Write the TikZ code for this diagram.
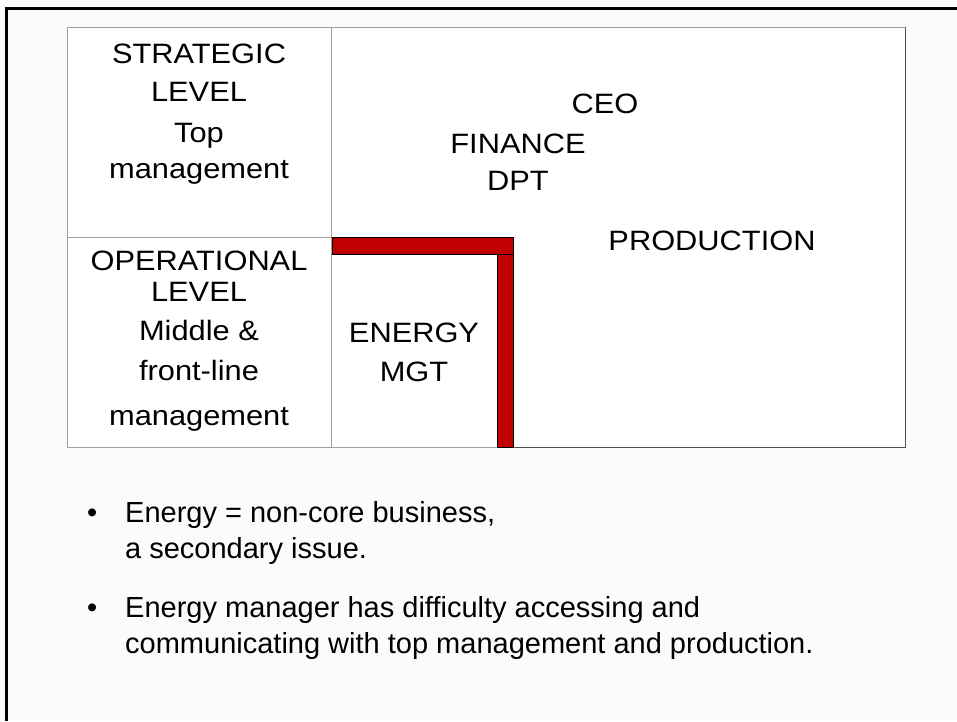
\documentclass[tikz,border=0pt]{standalone}
\usepackage{fontspec}
\setmainfont{Liberation Sans}
\newfontfamily\tabfont[FakeStretch=1.1]{Liberation Sans}
\definecolor{bgcol}{HTML}{FAFBFD}
\definecolor{gridgray}{HTML}{A0A0A0}
\definecolor{darkedge}{HTML}{505050}
\definecolor{barred}{HTML}{C00000}
\tikzset{
  cell/.style={anchor=base, inner sep=0pt, font=\tabfont\fontsize{28}{34}\selectfont},
  bul/.style={anchor=base west, inner sep=0pt, font=\fontsize{29}{34}\selectfont},
  bar/.style={fill=barred, draw=black, line width=0.6pt},
}
\begin{document}
\begin{tikzpicture}[x=1pt,y=-1pt]
\useasboundingbox (0,0) rectangle (957,721);
\fill[bgcol] (0,0) rectangle (957,721);
% outer frame
\draw[line width=3pt] (6.5,721) -- (6.5,8.5) -- (957,8.5);
% table
\fill[white] (67,27) rectangle (905,447);
\draw[gridgray, line width=1pt] (497,447) -- (67,447) -- (67,27) -- (905,27);
\draw[darkedge, line width=1pt] (905,27) -- (905,447) -- (513,447);
\draw[gridgray, line width=1pt] (331.5,27) -- (331.5,447);
\draw[gridgray, line width=1pt] (67,237) -- (331.5,237);
% red L
\draw[bar] (332,237) rectangle (513,254);
\draw[bar] (497,254) rectangle (513,447);
% left column texts
\node[cell] (s1) at (199,63) {STRATEGIC};
\node[cell] (s2) at (199,101) {LEVEL};
\node[cell] (s3) at (199,142) {Top};
\node[cell] (s4) at (199,178) {management};
\node[cell] (o1) at (199,270) {OPERATIONAL};
\node[cell] (o2) at (199,301) {LEVEL};
\node[cell] (o3) at (199,340) {Middle \&};
\node[cell] (o4) at (199,380) {front-line};
\node[cell] (o5) at (199,425) {management};
% right texts
\node[cell] (ceo) at (605,113) {CEO};
\node[cell] (fin1) at (518,153) {FINANCE};
\node[cell] (fin2) at (518,190) {DPT};
\node[cell] (prod) at (712,250) {PRODUCTION};
\node[cell] (en1) at (414,342) {ENERGY};
\node[cell] (en2) at (414,381) {MGT};
% bullets
\node[bul] (b1) at (87,522) {•};
\node[bul] (t1) at (125,522) {Energy = non-core business,};
\node[bul] (t2) at (125,558) {a secondary issue.};
\node[bul] (b2) at (87,617) {•};
\node[bul] (t3) at (125,617) {Energy manager has difficulty accessing and};
\node[bul] (t4) at (125,653) {communicating with top management and production.};
\end{tikzpicture}
\end{document}
